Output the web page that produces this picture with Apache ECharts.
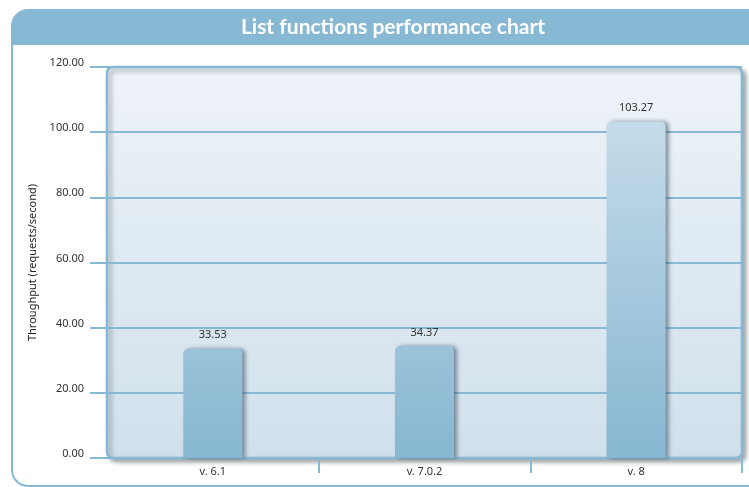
<!DOCTYPE html>
<html>
<head>
<meta charset="utf-8">
<script src="https://cdn.jsdelivr.net/npm/echarts@6/dist/echarts.min.js"></script>
<style>
  html, body { margin: 0; padding: 0; background: #fff; }
  #main { width: 749px; height: 487px; }
</style>
</head>
<body>
<div id="main"></div>
<script>
// data
var versions = ['v. 6.1', 'v. 7.0.2', 'v. 8'];
var throughput = [33.53, 34.37, 103.27];
var yTicks = [0, 20, 40, 60, 80, 100, 120];

var blue = '#88b9d4';
var myChart = echarts.init(document.getElementById('main'));

var option = {
    animation: false,
    title: {
        text: 'List functions performance chart',
        left: 388,
        top: 12,
        textAlign: 'center',
        textStyle: { color: '#fff', fontFamily: 'Lato', fontWeight: 'bold', fontSize: 21 }
    },
    graphic: [
        {   // outer panel
            type: 'rect', z: -30,
            shape: { x: 12, y: 10, width: 760, height: 476, r: 16 },
            style: { fill: '#fff', stroke: blue, lineWidth: 2 }
        },
        {   // title band
            type: 'rect', z: -29,
            shape: { x: 12, y: 10, width: 760, height: 35, r: [16, 0, 0, 0] },
            style: { fill: blue }
        },
        {   // plot panel
            type: 'rect', z: -20,
            shape: { x: 107, y: 67, width: 635, height: 391, r: 6 },
            style: {
                fill: new echarts.graphic.LinearGradient(0, 0, 0, 1, [
                    { offset: 0, color: '#eef3f8' },
                    { offset: 1, color: '#d0e0eb' }
                ]),
                stroke: blue, lineWidth: 2.5,
                shadowColor: 'rgba(60,70,80,0.45)', shadowBlur: 4,
                shadowOffsetX: 3, shadowOffsetY: 3
            }
        }
    ],
    grid: { left: 107, right: 7, top: 67, bottom: 29 },
    xAxis: {
        type: 'category',
        data: versions,
        boundaryGap: true,
        axisLine: { show: false },
        axisTick: {
            show: true, length: 15,
            lineStyle: { color: blue, width: 2 },
            interval: function (i) { return i === 1 || i === 2; }
        },
        axisLabel: { color: '#333', fontFamily: 'Noto Sans', fontSize: 11, margin: 8 }
    },
    yAxis: {
        type: 'value',
        min: 0, max: 120, interval: 20,
        name: 'Throughput (requests/second)',
        nameLocation: 'middle',
        nameGap: 68,
        nameTextStyle: { color: '#222', fontFamily: 'Noto Sans', fontSize: 11 },
        axisLine: { show: false },
        axisTick: { show: true, length: 17, lineStyle: { color: blue, width: 2 } },
        axisLabel: {
            color: '#333', fontFamily: 'Noto Sans', fontSize: 11, margin: 23,
            verticalAlign: 'bottom', lineHeight: 8,
            formatter: function (v) { return yTicks.indexOf(v) >= 0 ? v.toFixed(2) : ''; }
        },
        splitLine: { show: true, lineStyle: { color: blue, width: 2 } }
    },
    series: [
        {
            type: 'bar',
            data: throughput,
            barWidth: 59,
            itemStyle: {
                color: new echarts.graphic.LinearGradient(0, 67, 0, 458, [
                    { offset: 0, color: '#cfe1ed' },
                    { offset: 1, color: '#86b6d1' }
                ], true),
                borderRadius: [5, 5, 0, 0],
                shadowColor: 'rgba(40,60,80,0.55)', shadowBlur: 4,
                shadowOffsetX: 3, shadowOffsetY: 0
            },
            label: {
                show: true, position: 'top', distance: 8,
                color: '#333', fontFamily: 'Noto Sans', fontSize: 11,
                formatter: function (p) { return p.value.toFixed(2); }
            }
        }
    ]
};
myChart.setOption(option);
window.onresize = myChart.resize;
</script>
</body>
</html>
